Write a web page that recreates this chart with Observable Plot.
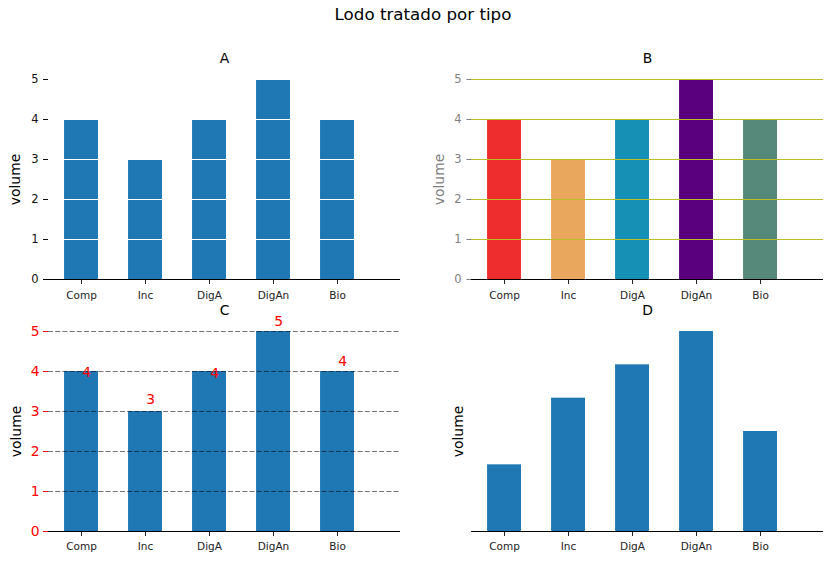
<!DOCTYPE html>
<html><head><meta charset="utf-8">
<script src="https://cdn.jsdelivr.net/npm/d3@7"></script>
<script src="https://cdn.jsdelivr.net/npm/@observablehq/plot@0.6"></script>
<style>
body{margin:0;background:#fff;font-family:"DejaVu Sans";}
#wrap{position:relative;width:833px;height:561px;overflow:hidden;background:#fff;}
#sup{position:absolute;left:0;width:846px;top:6px;text-align:center;font-size:16.7px;line-height:16.7px;color:#000;}
</style></head><body>
<div id="wrap"><div id="sup">Lodo tratado por tipo</div></div>
<script>
const categories = ["Comp","Inc","DigA","DigAn","Bio"];
const volumes = [4,3,4,5,4];
const volumesD = [2,4,5,6,3];
const barColorsB = ["#ee2e2e","#e8a75c","#1690b4","#5a007e","#56897a"];
const yTicks = [0,1,2,3,4,5];
const gridValues = [1,2,3,4,5];
const labelNudge = [-0.03,0.3,-0.05,0.24,0.24];
const titles = ["A","B","C","D"];
const yLabel = "volume";

const wrap = document.getElementById("wrap");
const idx = categories.map((c,i)=>i);
const rows = categories.map((c,i)=>({i, c, v: volumes[i], color: barColorsB[i], nudge: labelNudge[i]}));
const rowsD = categories.map((c,i)=>({i, c, v: volumesD[i]}));
const FONT = "DejaVu Sans";
const HW = 0.265;
const intFmt = d => String(d);

function panel({left, top, width, height, ml, mr, mt, mb, xDomain, yDomain, marks}) {
  const svg = Plot.plot({
    width, height, marginLeft: ml, marginRight: mr, marginTop: mt, marginBottom: mb,
    x: {domain: xDomain, axis: null},
    y: {domain: yDomain, axis: null},
    style: {fontFamily: FONT, background: "transparent", overflow: "visible"},
    marks
  });
  svg.style.position = "absolute";
  svg.style.left = left + "px";
  svg.style.top = top + "px";
  wrap.appendChild(svg);
}

function xAxis(pad) {
  return [
    Plot.axisX({ticks: idx, tickFormat: i => categories[i], tickSize: 5, tickPadding: pad, fontSize: 10.5, color: "#222", label: null}),
    Plot.ruleY([0], {stroke: "black", strokeWidth: 1.1})
  ];
}
function title(t, dx) {
  return Plot.text([t], {text: d => d, frameAnchor: "top", dy: -17, dx, lineAnchor: "bottom", fontSize: 13.9, fill: "black"});
}
function ylab(dx, fill) {
  return Plot.text([yLabel], {text: d => d, frameAnchor: "left", rotate: -90, dx, lineAnchor: "middle", textAnchor: "middle", fontSize: 13.9, fill});
}
const bars = (data, fill) => Plot.rect(data, {x1: d => d.i - HW, x2: d => d.i + HW, y1: d => 0, y2: "v", fill});

// Panel A
panel({left: 0, top: 40, width: 416, height: 272, ml: 43, mr: 16, mt: 39, mb: 33,
  xDomain: [-0.594, 4.984], yDomain: [0, 5],
  marks: [
    bars(rows, "#1f77b4"),
    Plot.ruleY(gridValues, {stroke: "white", strokeWidth: 1}),
    Plot.axisY({ticks: yTicks, tickFormat: intFmt, tickSize: -5, tickPadding: 10, fontSize: 11.5, color: "#111", label: null}),
    ...xAxis(7),
    title(titles[0], 2.5),
    ylab(-28, "black")
  ]});

// Panel B
panel({left: 416, top: 40, width: 417, height: 272, ml: 55, mr: 10, mt: 39, mb: 33,
  xDomain: [-0.516, 4.984], yDomain: [0, 5],
  marks: [
    bars(rows, d => d.color),
    Plot.ruleY(gridValues, {stroke: "#bcbd22", strokeWidth: 1.2}),
    Plot.axisY({ticks: yTicks, tickFormat: intFmt, tickSize: 4.5, tickPadding: 5.5, fontSize: 11.5, color: "#808080", label: null}),
    ...xAxis(7),
    title(titles[1], 0),
    ylab(-32, "#808080")
  ]});

// Panel C
panel({left: 0, top: 292, width: 416, height: 269, ml: 48, mr: 16, mt: 39, mb: 30,
  xDomain: [-0.516, 4.984], yDomain: [0, 5],
  marks: [
    bars(rows, "#1f77b4"),
    Plot.ruleY(gridValues, {stroke: "black", strokeOpacity: 0.55, strokeWidth: 1.1, strokeDasharray: "5,2.2"}),
    Plot.axisY({ticks: yTicks, tickFormat: intFmt, tickSize: 5, tickPadding: 4, fontSize: 13.9, color: "red", label: null}),
    ...xAxis(6),
    Plot.text(rows, {x: d => d.i + 0.08, y: d => d.v + d.nudge, text: d => String(d.v), fill: "red", fontSize: 13.9, lineAnchor: "middle"}),
    title(titles[2], 0),
    ylab(-32, "black")
  ]});

// Panel D
panel({left: 416, top: 292, width: 417, height: 269, ml: 55, mr: 10, mt: 39, mb: 30,
  xDomain: [-0.516, 4.984], yDomain: [0, 6],
  marks: [
    bars(rowsD, "#1f77b4"),
    ...xAxis(6),
    title(titles[3], 0),
    ylab(-13, "black")
  ]});
</script>
</body></html>
